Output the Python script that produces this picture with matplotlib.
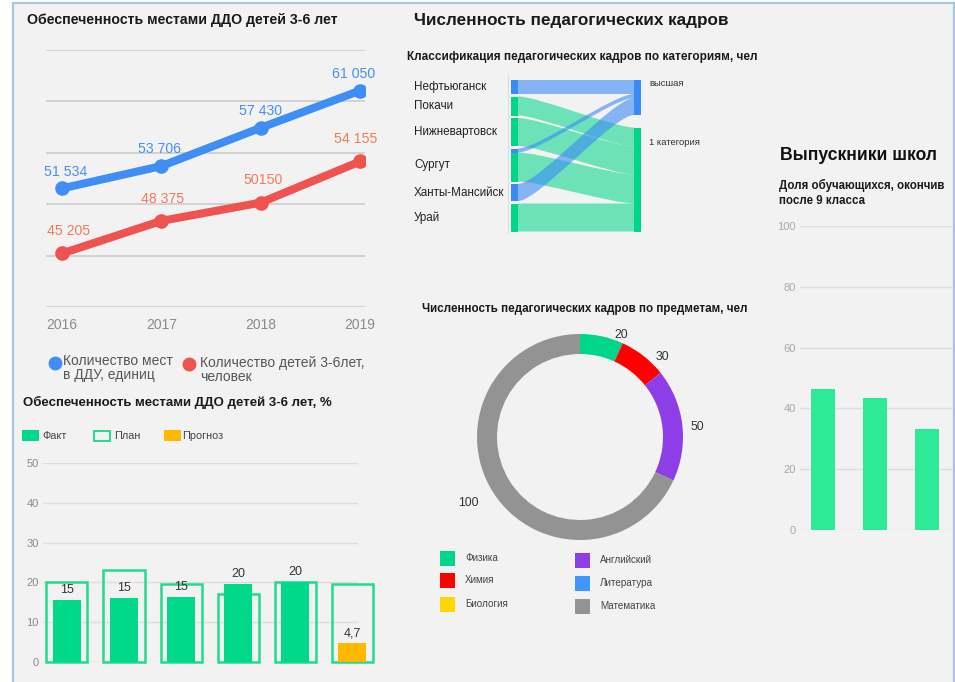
import matplotlib
matplotlib.use('Agg')
import matplotlib.pyplot as plt
import numpy as np
from matplotlib.patches import Rectangle, PathPatch
from matplotlib.path import Path
from matplotlib.lines import Line2D

plt.rcParams['font.family'] = ['Liberation Sans', 'DejaVu Sans']

# ---------------- data ----------------
years = ['2016', '2017', '2018', '2019']
places = [51534, 53706, 57430, 61050]
children = [45205, 48375, 50150, 54155]
places_labels = ['51 534', '53 706', '57 430', '61 050']
children_labels = ['45 205', '48 375', '50150', '54 155']

plan = [20, 23, 19.5, 17, 20, 19.5]
fact = [15.5, 16, 16.3, 19.6, 20]
fact_labels = ['15', '15', '15', '20', '20']
forecast = 4.7
forecast_label = '4,7'

cities = ['Нефтьюганск', 'Покачи', 'Нижневартовск', 'Сургут', 'Ханты-Мансийск', 'Урай']
categories = ['высшая', '1 категория']
flow_src = [0, 1, 2, 3, 3, 4, 5]
flow_tgt = [0, 1, 1, 0, 1, 0, 1]
flow_val = [14, 19, 28, 4, 29, 17, 28]

subjects = ['Физика', 'Химия', 'Биология', 'Английский', 'Литература', 'Математика']
subject_share = [13.6, 15.0, 0, 35.3, 0, 136.1]
subject_labels = ['20', '30', '', '50', '', '100']

grad_share = [46.3, 43.3, 33.2]

# ---------------- style ----------------
W, H = 955, 682
BLUE = '#3f8ef6'
RED = '#ef5350'
GREEN = '#00d88a'
ORANGE = '#ffb800'
cat_colors = ['#3b8bf6', '#00d68a']
subject_colors = ['#00d68a', '#ff0000', '#ffd700', '#8e3ee6', '#4096ff', '#939393']

fig = plt.figure(figsize=(W / 100, H / 100), dpi=100, facecolor='white')


def fx(x):
    return x / W


def fy(y):
    return 1 - y / H


def add_ax(x0, y0, x1, y1):
    a = fig.add_axes([x0 / W, 1 - y1 / H, (x1 - x0) / W, (y1 - y0) / H])
    a.set_facecolor('none')
    return a


def ftext(x, y, s, **kw):
    kw.setdefault('va', 'center')
    return fig.text(fx(x), fy(y), s, **kw)


# background panel with light-blue frame
fig.patches.append(Rectangle((fx(13), -0.02), fx(953.5) - fx(13), fy(3) + 0.02,
                             transform=fig.transFigure, facecolor='#f2f2f2',
                             edgecolor='#a9c4e6', lw=1.6, zorder=-10))

# ================= Line chart =================
ftext(27, 20, 'Обеспеченность местами ДДО детей 3-6 лет', fontsize=10.2,
      fontweight='bold', color='#1a1a1a')
ax1 = add_ax(46, 50, 365, 307)
xs = np.arange(len(years))
ax1.set_xlim(-0.16, 3.05)
ax1.set_ylim(40000, 65000)
for v in range(40000, 65001, 5000):
    ax1.axhline(v, color='#cccccc', lw=1.2, zorder=0)
ax1.plot(xs, places, color=BLUE, lw=5.8, marker='o', ms=9.5,
         solid_capstyle='round', zorder=3)
ax1.plot(xs, children, color=RED, lw=5.8, marker='o', ms=9.5,
         solid_capstyle='round', zorder=3)
lab_dx = [3, -1, 0, -5]
for x, v, s, d in zip(xs, places, places_labels, lab_dx):
    ax1.annotate(s, (x, v), xytext=(d, 12), textcoords='offset points',
                 ha='center', va='center', fontsize=10.2, color='#4a8ef2', zorder=4)
for x, v, s, d in zip(xs, children, children_labels, lab_dx):
    ax1.annotate(s, (x, v), xytext=(d + 2, 16), textcoords='offset points',
                 ha='center', va='center', fontsize=10.2, color='#f27a58', zorder=4)
for sp in ax1.spines.values():
    sp.set_visible(False)
ax1.set_yticks([])
ax1.set_xticks(xs)
ax1.set_xticklabels(years)
ax1.tick_params(axis='x', length=0, pad=8, labelsize=10, labelcolor='#8a8a8a')

# legend
fig.add_artist(Line2D([fx(55)], [fy(363)], marker='o', ms=9, color=BLUE,
                      transform=fig.transFigure))
ftext(63, 354, 'Количество мест\nв ДДУ, единиц', va='top', fontsize=10,
      color='#555555', linespacing=1.0)
fig.add_artist(Line2D([fx(189)], [fy(364)], marker='o', ms=9, color=RED,
                      transform=fig.transFigure))
ftext(200, 356, 'Количество детей 3-6лет,\nчеловек', va='top', fontsize=10,
      color='#555555', linespacing=1.0)

# ================= Bar chart (%) =================
ftext(23, 402, 'Обеспеченность местами ДДО детей 3-6 лет, %', fontsize=9.5,
      fontweight='bold', color='#1a1a1a')
ax2 = add_ax(43, 463, 375, 662)
ax2.set_xlim(-0.42, 5.40)
ax2.set_ylim(0, 50)
for v in range(0, 51, 10):
    ax2.axhline(v, xmin=0, xmax=0.946, color='#dddddd', lw=1, zorder=0)
px = np.arange(len(plan))
ax2.bar(px, plan, width=0.72, fill=False, edgecolor='#22dc8e', lw=1.8,
        clip_on=False, zorder=2)
fx_ = np.arange(len(fact))
ax2.bar(fx_, fact, width=0.49, color=GREEN, zorder=3)
ax2.bar([len(fact)], [forecast], width=0.49, color=ORANGE, zorder=3)
for x, v, s in zip(fx_, fact, fact_labels):
    ax2.annotate(s, (x, v), xytext=(0, 3), textcoords='offset points',
                 ha='center', va='bottom', fontsize=9, color='#333333', zorder=4)
ax2.annotate(forecast_label, (len(fact), forecast), xytext=(0, 3),
             textcoords='offset points', ha='center', va='bottom', fontsize=9,
             color='#333333', zorder=4)
for sp in ax2.spines.values():
    sp.set_visible(False)
ax2.set_xticks([])
ax2.set_yticks(range(0, 51, 10))
ax2.tick_params(axis='y', length=0, pad=3, labelsize=8, labelcolor='#8a8a8a')

# legend
fig.patches.append(Rectangle((fx(22), fy(441)), fx(17), 11 / H, transform=fig.transFigure,
                             facecolor=GREEN, edgecolor='none'))
ftext(42, 436, 'Факт', fontsize=7.8, color='#444444')
fig.patches.append(Rectangle((fx(93.5), fy(440.5)), fx(16), 10 / H, transform=fig.transFigure,
                             facecolor='none', edgecolor='#22dc8e', lw=1.4))
ftext(114, 436, 'План', fontsize=7.8, color='#444444')
fig.patches.append(Rectangle((fx(164), fy(441)), fx(17), 11 / H, transform=fig.transFigure,
                             facecolor=ORANGE, edgecolor='none'))
ftext(182, 436, 'Прогноз', fontsize=7.8, color='#444444')

# ================= Sankey =================
ftext(414, 20, 'Численность педагогических кадров', fontsize=12.3,
      fontweight='bold', color='#1a1a1a')
ftext(407, 57, 'Классификация педагогических кадров по категориям, чел',
      fontsize=8.5, fontweight='bold', color='#1a1a1a')
ax3 = add_ax(505, 75, 655, 240)
ax3.set_xlim(-6, 144)
ax3.set_ylim(160, -5)
ax3.axis('off')
ax3.plot([-3, -3], [-8, 153], color='#dedede', lw=0.8)

n_c = len(cities)
n_t = len(categories)
city_tot = [sum(v for s, v in zip(flow_src, flow_val) if s == i) for i in range(n_c)]
cat_tot = [sum(v for t, v in zip(flow_tgt, flow_val) if t == j) for j in range(n_t)]
gap_l = 2.5
left_total = sum(city_tot) + gap_l * (n_c - 1)
gap_r = (left_total - sum(cat_tot)) / (n_t - 1)
city_y = list(np.cumsum([0] + [t + gap_l for t in city_tot[:-1]]))
cat_y = list(np.cumsum([0] + [t + gap_r for t in cat_tot[:-1]]))

NW = 7
XL0, XL1 = 0, NW
XR0, XR1 = 123, 123 + NW

order = sorted(range(len(flow_val)), key=lambda k: (flow_src[k], flow_tgt[k]))
src_pos = {}
cur = list(city_y)
for k in order:
    src_pos[k] = cur[flow_src[k]]
    cur[flow_src[k]] += flow_val[k]
order_t = sorted(range(len(flow_val)), key=lambda k: (flow_tgt[k], flow_src[k]))
tgt_pos = {}
cur_t = list(cat_y)
for k in order_t:
    tgt_pos[k] = cur_t[flow_tgt[k]]
    cur_t[flow_tgt[k]] += flow_val[k]


def ribbon(ya, yb, v, color, alpha, z):
    c1 = XL1 + 0.18 * (XR0 - XL1)
    c2 = XR0 - 0.18 * (XR0 - XL1)
    verts = [(XL1, ya), (c1, ya), (c2, yb), (XR0, yb), (XR0, yb + v),
             (c2, yb + v), (c1, ya + v), (XL1, ya + v), (XL1, ya)]
    codes = [Path.MOVETO, Path.CURVE4, Path.CURVE4, Path.CURVE4, Path.LINETO,
             Path.CURVE4, Path.CURVE4, Path.CURVE4, Path.CLOSEPOLY]
    ax3.add_patch(PathPatch(Path(verts, codes), facecolor=color, edgecolor='none',
                            alpha=alpha, zorder=z))


# green ribbons first, blue on top
for t_draw in (1, 0):
    for k in order:
        if flow_tgt[k] != t_draw:
            continue
        col = cat_colors[flow_tgt[k]]
        ribbon(src_pos[k], tgt_pos[k], flow_val[k], col,
               0.6 if t_draw == 0 else 0.55, 2 if t_draw == 1 else 3)

for k in order:
    ax3.add_patch(Rectangle((XL0, src_pos[k]), NW, flow_val[k],
                            facecolor=cat_colors[flow_tgt[k]], edgecolor='none', zorder=5))
for j in range(n_t):
    ax3.add_patch(Rectangle((XR0, cat_y[j]), NW, cat_tot[j],
                            facecolor=cat_colors[j], edgecolor='none', zorder=5))

for i, c in enumerate(cities):
    ax3.text(414 - 511, city_y[i] + city_tot[i] / 2, c, ha='left', va='center',
             fontsize=8.4, color='#222222', clip_on=False)
cat_lab_off = [3, 15]
for j, c in enumerate(categories):
    ax3.text(XR1 + 8, cat_y[j] + cat_lab_off[j], c, ha='left', va='center',
             fontsize=6.8, color='#333333', clip_on=False)

# ================= Donut =================
ftext(422, 309, 'Численность педагогических кадров по предметам, чел',
      fontsize=8.4, fontweight='bold', color='#1a1a1a')
ax4 = add_ax(470, 327, 690, 547)
ax4.pie(subject_share, colors=subject_colors, radius=1.03, startangle=90,
        counterclock=False, wedgeprops=dict(width=0.2, linewidth=0))
ax4.set_xlim(-1.1, 1.1)
ax4.set_ylim(-1.1, 1.1)
ax4.set_aspect('equal')
ax4.axis('off')
tot = sum(subject_share)
cum = np.cumsum([0] + subject_share)
lab_shift = {0: 10, 1: 8, 3: 2, 5: 2}
lab_rad = {0: 1.1, 1: 1.15, 3: 1.18, 5: 1.30}
for i, s in enumerate(subject_labels):
    if not s:
        continue
    mid = (cum[i] + cum[i + 1]) / 2 / tot * 360 + lab_shift[i]
    r = lab_rad[i]
    ax4.text(r * np.sin(np.radians(mid)), r * np.cos(np.radians(mid)), s,
             ha='center', va='center', fontsize=8.8, color='#333333', clip_on=False)

leg_x = [440, 440, 440, 575, 575, 575]
leg_y = [558, 580, 604, 560, 583, 606]
for i, s in enumerate(subjects):
    fig.patches.append(Rectangle((fx(leg_x[i]), fy(leg_y[i] + 7.5)), fx(15), 15 / H,
                                 transform=fig.transFigure, facecolor=subject_colors[i],
                                 edgecolor='none'))
    ftext(leg_x[i] + 25, leg_y[i], s, fontsize=7.1, color='#444444')

# ================= Graduates =================
ftext(780, 155, 'Выпускники школ', fontsize=12.7, fontweight='bold', color='#111111')
ftext(779, 185, 'Доля обучающихся, окончив', fontsize=8.3, fontweight='bold', color='#1a1a1a')
ftext(779, 201, 'после 9 класса', fontsize=8.3, fontweight='bold', color='#1a1a1a')
ax5 = add_ax(800, 226, 953, 530)
ax5.set_xlim(-0.442, 2.5)
ax5.set_ylim(0, 100)
for v in range(0, 101, 20):
    ax5.axhline(v, color='#dddddd', lw=1, zorder=0)
ax5.bar(np.arange(len(grad_share)), grad_share, width=0.46, color='#2eea96', zorder=3)
for sp in ax5.spines.values():
    sp.set_visible(False)
ax5.set_xticks([])
ax5.set_yticks(range(0, 101, 20))
ax5.tick_params(axis='y', length=0, pad=3, labelsize=8, labelcolor='#a8a8a8')

fig.savefig('out.png', dpi=100, facecolor='white')
